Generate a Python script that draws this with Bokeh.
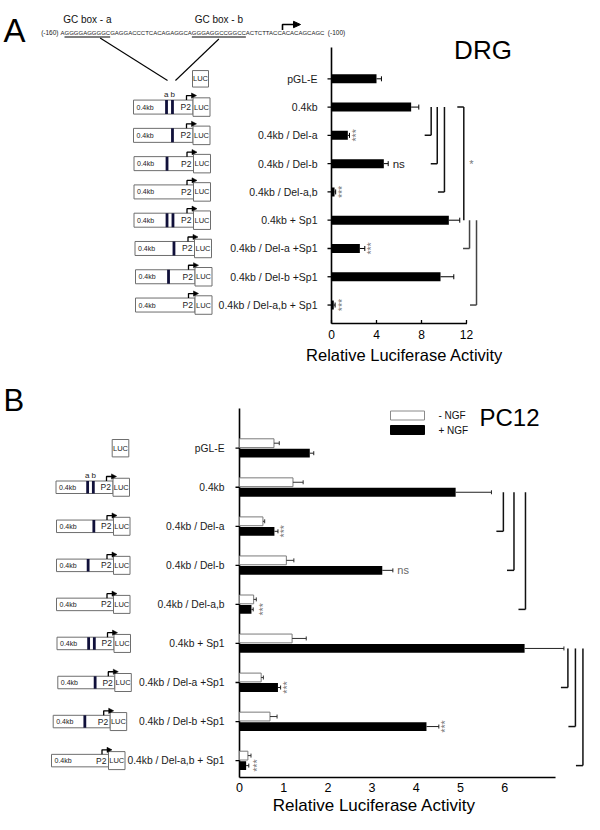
import math
from bokeh.plotting import figure
from bokeh.models import Range1d
from bokeh.core.properties import value
from bokeh.embed import file_html
from bokeh.resources import INLINE

# ------------------------------------------------------------------ data
constructs = ["pGL-E", "0.4kb", "0.4kb / Del-a", "0.4kb / Del-b", "0.4kb / Del-a,b",
              "0.4kb + Sp1", "0.4kb / Del-a +Sp1", "0.4kb / Del-b +Sp1",
              "0.4kb / Del-a,b + Sp1"]
has_promoter = [False, True, True, True, True, True, True, True, True]
site_a = [0, 1, 0, 1, 0, 1, 0, 1, 0]
site_b = [0, 1, 1, 0, 0, 1, 1, 0, 0]

sequence = "AGGGGAGGGGCGAGGACCCTCACAGAGGCAGGGAGGCCGGCCACTCTTACCACACAGCAGC"
seq_start_label = "(-160)"
seq_end_label = "(-100)"
gc_box_names = ["GC box - a", "GC box - b"]
gc_box_span = [(1, 11), (30, 42)]          # character index ranges

drg_mean = [4.0, 7.08, 1.45, 4.65, 0.27, 10.43, 2.52, 9.69, 0.20]
drg_err = [0.44, 0.68, 0.15, 0.39, 0.10, 0.97, 0.44, 1.18, 0.12]
drg_sig = ["", "", "***", "ns", "***", "", "***", "", "***"]
drg_ticks = [0, 4, 8, 12]
drg_pairs = [(1, 2), (1, 3), (1, 4), (1, 5), (5, 6), (5, 8)]
drg_pair_sig = ["", "", "", "*", "", ""]

pc12_minus = [0.78, 1.21, 0.53, 1.06, 0.32, 1.19, 0.49, 0.69, 0.19]
pc12_minus_err = [0.12, 0.23, 0.04, 0.17, 0.06, 0.32, 0.05, 0.16, 0.07]
pc12_plus = [1.59, 4.89, 0.79, 3.23, 0.27, 6.45, 0.87, 4.23, 0.15]
pc12_plus_err = [0.09, 0.81, 0.08, 0.24, 0.04, 0.89, 0.06, 0.28, 0.06]
pc12_sig = ["", "", "***", "ns", "***", "", "***", "***", "***"]
pc12_ticks = [0, 1, 2, 3, 4, 5, 6]
pc12_pairs = [(1, 2), (1, 3), (1, 4), (5, 6), (5, 7), (5, 8)]
legend_labels = ["- NGF", "+ NGF"]
x_title = "Relative Luciferase Activity"

# ------------------------------------------------------------------ layout
FONT = value("Liberation Sans")
W, H = 584, 814
XL, XR = 0.0, 584.0
YT, YB = 0.0, 814.0

A_X0, A_SX = 331.0, 11.25       # px of value 0, px per unit
A_Y0, A_SY = 78.3, 28.28        # px of row 0, px per row
A_AXIS_TOP, A_AXIS_BOT = 47.0, 323.0
A_BAR_H, A_CAP = 9.0, 5.0
A_BR_X = [8.86, 9.40, 10.04, 11.76, 12.27, 12.89]
A_BR_HOOK = ["bottom", "bottom", "bottom", "top", "bottom", "bottom"]
A_BR_COL = ["#111111"] * 4 + ["#444444"] * 2

B_X0, B_SX = 239.0, 44.2
B_Y0, B_SY = 447.7, 39.05
B_AXIS_TOP, B_AXIS_BOT = 408.0, 777.0
B_AXIS_END = 7.15
B_BAR_H, B_OFF, B_CAP = 8.8, 5.0, 4.0
B_BR_X = [5.97, 6.21, 6.47, 7.43, 7.60, 7.77]

p = figure(width=W, height=H, x_range=Range1d(XL, XR), y_range=Range1d(YB, YT),
           x_axis_type=None, y_axis_type=None, toolbar_location=None,
           output_backend="svg", min_border=0, outline_line_color=None,
           background_fill_color="white", border_fill_color="white")

p.extra_x_ranges["xa"] = Range1d((XL - A_X0) / A_SX, (XR - A_X0) / A_SX)
p.extra_y_ranges["ya"] = Range1d((YB - A_Y0) / A_SY, (YT - A_Y0) / A_SY)
p.extra_x_ranges["xb"] = Range1d((XL - B_X0) / B_SX, (XR - B_X0) / B_SX)
p.extra_y_ranges["yb"] = Range1d((YB - B_Y0) / B_SY, (YT - B_Y0) / B_SY)
RA = dict(x_range_name="xa", y_range_name="ya")
RB = dict(x_range_name="xb", y_range_name="yb")


def text(x, y, t, size, align="left", baseline="middle", color="#111111",
         angle=0.0, x_offset=0, y_offset=0, **rng):
    p.text(x=x, y=y, text=t, text_font=FONT, text_font_size=f"{size}px",
           text_align=align, text_baseline=baseline, text_color=color,
           angle=angle, x_offset=x_offset, y_offset=y_offset, **rng)


def ay(i):
    return A_Y0 + A_SY * i


def by(i):
    return B_Y0 + B_SY * i


# ------------------------------------------------------------ construct maps
def draw_constructs(lefts, ycs, box_w, box_h, luc_w, luc_h, luc0_left, luc0_w, luc0_h):
    pl, pr, pt, pb = [], [], [], []
    ll, lr, lt, lb = [], [], [], []
    gl, gr, gt, gb = [], [], [], []
    tx, ty, tt, ts, ta = [], [], [], [], []
    axs, ays, hxs, hys = [], [], [], []
    for i, yc in enumerate(ycs):
        if not has_promoter[i]:
            ll.append(luc0_left); lr.append(luc0_left + luc0_w)
            lt.append(yc - luc0_h / 2); lb.append(yc + luc0_h / 2)
            tx.append(luc0_left + luc0_w / 2); ty.append(yc); tt.append("LUC")
            ts.append("7.5px"); ta.append("center")
            continue
        left = lefts[i]
        right = left + box_w
        top, bot = yc - box_h / 2, yc + box_h / 2
        pl.append(left); pr.append(right); pt.append(top); pb.append(bot)
        ll.append(right); lr.append(right + luc_w)
        lt.append(yc - luc_h / 2); lb.append(yc + luc_h / 2)
        xa_c = left + 0.555 * box_w
        xb_c = left + 0.655 * box_w
        for flag, xc in ((site_a[i], xa_c), (site_b[i], xb_c)):
            if flag:
                gl.append(xc - 1.4); gr.append(xc + 1.4); gt.append(top); gb.append(bot)
        if i == 1:
            tx.append((xa_c + xb_c) / 2); ty.append(top - 5.5); tt.append("a b")
            ts.append("8px"); ta.append("center")
        tx += [left + 3, right - 2, right + luc_w / 2]
        ty += [yc, yc, yc]
        tt += ["0.4kb", "P2", "LUC"]
        ts += ["7px", "8.5px", "7.5px"]
        ta += ["left", "right", "center"]
        xv = right - 6.5
        ya = top - 4.5
        tip = right + 3.5
        axs.append([xv, xv, tip - 4.5]); ays.append([top, ya, ya])
        hxs.append([tip - 5, tip, tip - 5]); hys.append([ya - 2.6, ya, ya + 2.6])
    p.quad(left=pl, right=pr, top=pt, bottom=pb, fill_color="white",
           line_color="#6e6e6e", line_width=1)
    p.quad(left=ll, right=lr, top=lt, bottom=lb, fill_color="white",
           line_color="#6e6e6e", line_width=1)
    p.quad(left=gl, right=gr, top=gt, bottom=gb, fill_color="#10103a", line_color=None)
    p.multi_line(xs=axs, ys=ays, line_color="black", line_width=1.3)
    p.patches(xs=hxs, ys=hys, fill_color="black", line_color="black", line_width=0.5)
    p.text(x=tx, y=ty, text=tt, text_font=FONT, text_font_size=ts, text_align=ta,
           text_baseline="middle", text_color="#222222")


n = len(constructs)
idx = list(range(n))

# ================================================================ PANEL A
text([3], [30], ["A"], 33, baseline="alphabetic", color="black")

# sequence header
ARIAL = {"A": 0.667, "C": 0.722, "G": 0.778, "T": 0.611}
SEQ_X, SEQ_Y, SEQ_FS = 60.0, 32.3, 6.0
adv = [0.0]
for ch in sequence:
    adv.append(adv[-1] + ARIAL[ch] * SEQ_FS)
text([SEQ_X], [SEQ_Y], [sequence], SEQ_FS, color="#222222")
text([SEQ_X - 2], [SEQ_Y], [seq_start_label], 6.5, align="right", color="#222222")
text([SEQ_X + adv[-1] + 3], [SEQ_Y], [seq_end_label], 6.5, color="#222222")
ul_x0 = [SEQ_X + adv[s] for s, e in gc_box_span]
ul_x1 = [SEQ_X + adv[e] for s, e in gc_box_span]
p.segment(x0=ul_x0, x1=ul_x1, y0=[36.5] * 2, y1=[36.5] * 2, line_color="black", line_width=1.2)
text([(a + b) / 2 for a, b in zip(ul_x0, ul_x1)], [19, 19], gc_box_names, 10, align="center")
# connector lines to the 0.4kb map
A_LEFTS = [None, 133, 133, 133.5, 133.5, 133.5, 134.5, 135, 135]
A_BOX_W = 59.5
row1_a = A_LEFTS[1] + 0.555 * A_BOX_W
row1_b = A_LEFTS[1] + 0.655 * A_BOX_W
p.segment(x0=[ul_x0[0] + 0.78 * (ul_x1[0] - ul_x0[0]), ul_x0[1] + 0.5 * (ul_x1[1] - ul_x0[1])],
          y0=[37.5, 38.5], x1=[row1_a + 1, row1_b + 3], y1=[80, 80],
          line_color="black", line_width=1.1)
# transcription start arrow
p.line(x=[282, 282, 294], y=[29.5, 24, 24], line_color="black", line_width=1.6)
p.patch(x=[293, 300, 293], y=[20.8, 24, 27.2], fill_color="black", line_color="black")

draw_constructs(A_LEFTS, [ay(i) for i in idx], A_BOX_W, 14, 17, 18.5, 192, 16, 16.5)

text([482.5], [49], ["DRG"], 26, align="center", color="black")

# axes
p.segment(x0=[0], x1=[0], y0=[A_AXIS_TOP], y1=[A_AXIS_BOT], line_color="black",
          line_width=1.6, x_range_name="xa")
p.segment(x0=[0], x1=[drg_ticks[-1] + 0.04], y0=[A_AXIS_BOT], y1=[A_AXIS_BOT],
          line_color="black", line_width=1.6, x_range_name="xa")
p.segment(x0=drg_ticks, x1=drg_ticks, y0=[A_AXIS_BOT] * 4, y1=[A_AXIS_BOT - 3.5] * 4,
          line_color="black", line_width=1.3, x_range_name="xa")
text(drg_ticks, [A_AXIS_BOT + 11] * 4, [str(t) for t in drg_ticks], 12, align="center",
     color="black", x_range_name="xa")
text([6.5], [354], [x_title], 16.5, align="center", color="black", x_range_name="xa")
p.segment(x0=[-4 / A_SX] * n, x1=[0] * n, y0=idx, y1=idx, line_color="black",
          line_width=1.3, **RA)
text([0] * n, idx, constructs, 10.5, align="right", x_offset=-14, color="#1a1a1a", **RA)

# bars
p.hbar(y=idx, left=0, right=drg_mean, height=A_BAR_H / A_SY, fill_color="black",
       line_color=None, **RA)
a_end = [m + e for m, e in zip(drg_mean, drg_err)]
p.segment(x0=drg_mean, x1=a_end, y0=idx, y1=idx, line_color="black", line_width=1, **RA)
capA = A_CAP / 2 / A_SY
p.segment(x0=a_end, x1=a_end, y0=[i - capA for i in idx], y1=[i + capA for i in idx],
          line_color="black", line_width=1, **RA)
st = [i for i in idx if drg_sig[i] == "***"]
text([a_end[i] for i in st], st, ["***"] * len(st), 10.5, align="center", color="#7a7a7a",
     angle=math.pi / 2, x_offset=6.5, **RA)
ns = [i for i in idx if drg_sig[i] == "ns"]
text([a_end[i] for i in ns], ns, ["ns"] * len(ns), 11.5, color="#222222", x_offset=4.5, **RA)

# comparison brackets
hookA = 6.5 / A_SX
for (f, t), xb, hk, col, lab in zip(drg_pairs, A_BR_X, A_BR_HOOK, A_BR_COL, drg_pair_sig):
    yh = t if hk == "bottom" else f
    p.segment(x0=[xb, xb - hookA], x1=[xb, xb], y0=[f, yh], y1=[t, yh],
              line_color=col, line_width=1.5, **RA)
    if lab:
        text([xb], [(f + t) / 2], [lab], 11, align="center", color="#777777",
             x_offset=7.5, **RA)

# ================================================================ PANEL B
text([3], [400], ["B"], 31, baseline="alphabetic", color="black")
B_LEFTS = [None, 55.5, 56, 56, 56, 56.5, 57.3, 52.7, 51.0]
draw_constructs(B_LEFTS, [by(i) for i in idx], 57, 12.5, 16.5, 18, 111.7, 16.6, 17.4)

# legend
p.quad(left=[390, 390], right=[424, 424], top=[410.5, 425], bottom=[419.5, 434],
       fill_color=["white", "black"], line_color=["#8a8a8a", "black"], line_width=1)
text([438, 438], [415, 429.5], legend_labels, 10, color="#111111")
text([509], [416.5], ["PC12"], 24, align="center", color="black")

# axes
p.segment(x0=[0], x1=[0], y0=[B_AXIS_TOP], y1=[B_AXIS_BOT], line_color="black",
          line_width=1.6, x_range_name="xb")
p.segment(x0=[0], x1=[B_AXIS_END], y0=[B_AXIS_BOT], y1=[B_AXIS_BOT], line_color="black",
          line_width=1.6, x_range_name="xb")
text(pc12_ticks, [B_AXIS_BOT + 10] * len(pc12_ticks), [str(t) for t in pc12_ticks], 12.5,
     align="center", color="black", x_range_name="xb")
text([3.05], [805], [x_title], 17, align="center", color="black", x_range_name="xb")
p.segment(x0=[-4 / B_SX] * n, x1=[0] * n, y0=idx, y1=idx, line_color="black",
          line_width=1.3, **RB)
text([0] * n, idx, constructs, 10.3, align="right", x_offset=-15, color="#1a1a1a", **RB)

# bars
off = B_OFF / B_SY
yw = [i - off for i in idx]
yk = [i + off for i in idx]
capB = B_CAP / 2 / B_SY
p.hbar(y=yw, left=0, right=pc12_minus, height=B_BAR_H / B_SY, fill_color="white",
       line_color="#7a7a7a", line_width=1, **RB)
p.hbar(y=yk, left=0, right=pc12_plus, height=B_BAR_H / B_SY, fill_color="black",
       line_color=None, **RB)
w_end = [m + e for m, e in zip(pc12_minus, pc12_minus_err)]
k_end = [m + e for m, e in zip(pc12_plus, pc12_plus_err)]
for ys, ms, es, col in ((yw, pc12_minus, w_end, "#333333"), (yk, pc12_plus, k_end, "#222222")):
    p.segment(x0=ms, x1=es, y0=ys, y1=ys, line_color=col, line_width=1, **RB)
    p.segment(x0=es, x1=es, y0=[y - capB for y in ys], y1=[y + capB for y in ys],
              line_color=col, line_width=1, **RB)
stb = [i for i in idx if pc12_sig[i] == "***"]
text([max(w_end[i], k_end[i]) for i in stb], [yk[i] for i in stb], ["***"] * len(stb), 10.5,
     align="center", color="#7a7a7a", angle=math.pi / 2, x_offset=6.5, **RB)
nsb = [i for i in idx if pc12_sig[i] == "ns"]
text([max(w_end[i], k_end[i]) for i in nsb], [yk[i] for i in nsb], ["ns"] * len(nsb), 11,
     color="#666666", x_offset=4.5, **RB)

hookB = 7 / B_SX
for (f, t), xb in zip(pc12_pairs, B_BR_X):
    p.segment(x0=[xb, xb - hookB], x1=[xb, xb], y0=[yk[f], yk[t]], y1=[yk[t], yk[t]],
              line_color="#111111", line_width=1.5, **RB)

open("out.html", "w").write(file_html(p, INLINE, "Luciferase"))
